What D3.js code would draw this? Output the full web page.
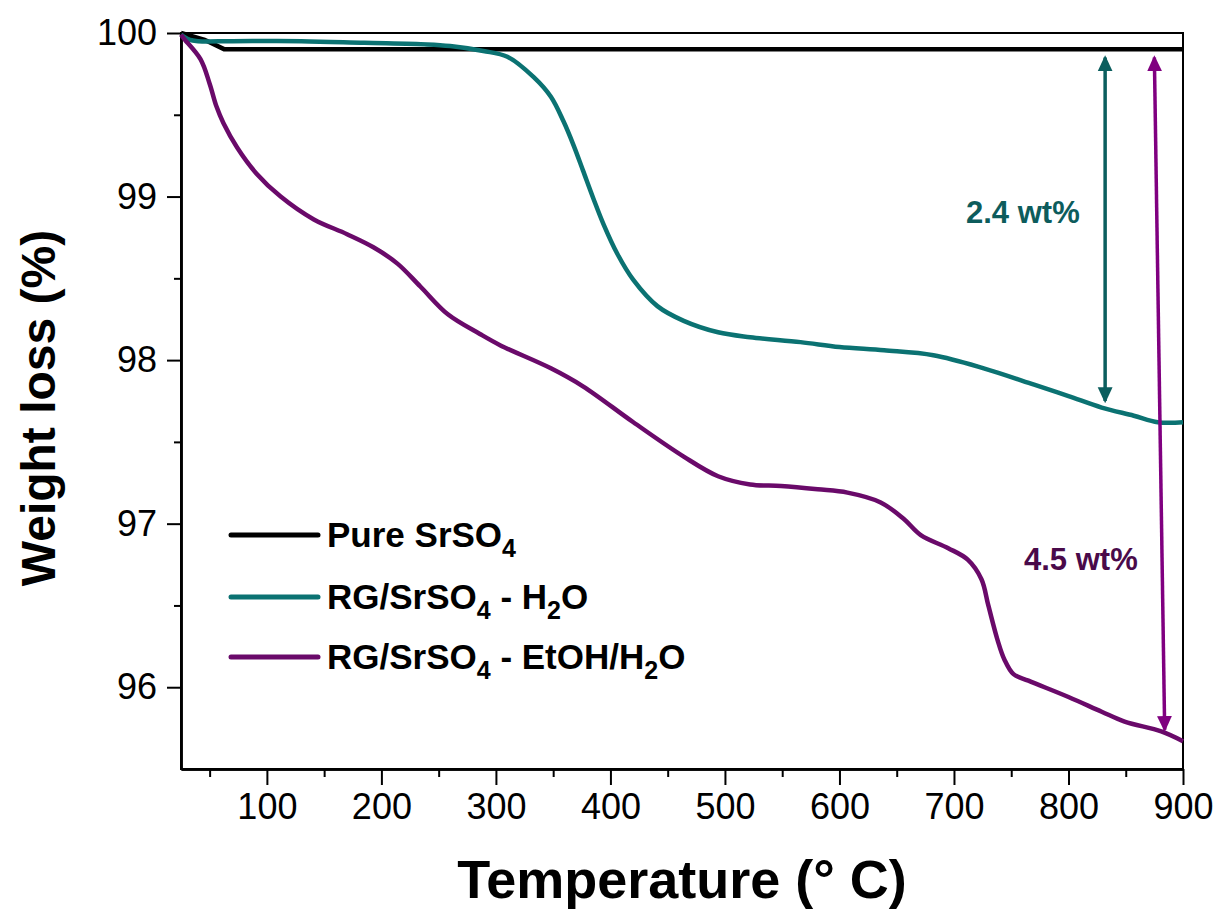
<!DOCTYPE html>
<html>
<head>
<meta charset="utf-8">
<script src="https://cdn.jsdelivr.net/npm/d3@7"></script>
<style>
  body { margin: 0; background: #fff; }
  svg text { font-family: "Liberation Sans", Arial, sans-serif; }
</style>
</head>
<body>
<script>
// TGA curves: temperature (°C) vs weight (%)
const pureT = [25, 45, 63, 900];
const pureW = [100, 99.96, 99.9, 99.9];

const h2oT = [25, 32, 40, 70, 130, 185, 240, 260, 289, 310, 333, 348, 359, 368, 376, 385, 394, 406, 420, 441, 464, 494, 522, 566, 600, 639, 682, 726, 770, 800, 829, 857, 878, 900];
const h2oW = [99.99, 99.96, 99.95, 99.95, 99.95, 99.94, 99.93, 99.92, 99.89, 99.855, 99.73, 99.61, 99.46, 99.31, 99.16, 98.99, 98.83, 98.65, 98.49, 98.33, 98.24, 98.17, 98.14, 98.11, 98.08, 98.06, 98.03, 97.95, 97.85, 97.78, 97.71, 97.66, 97.62, 97.62];

const etohT = [25, 27, 42, 50, 56, 62, 74, 91, 112, 141, 170, 193, 214, 234, 258, 286, 304, 348, 376, 420, 464, 494, 522, 549, 581, 607, 636, 656, 671, 695, 712, 724, 730, 738, 744, 752, 765, 800, 829, 849, 881, 900];
const etohW = [99.99, 99.97, 99.84, 99.69, 99.55, 99.45, 99.30, 99.14, 99.00, 98.86, 98.77, 98.69, 98.59, 98.45, 98.28, 98.16, 98.09, 97.95, 97.84, 97.62, 97.41, 97.29, 97.24, 97.23, 97.21, 97.19, 97.13, 97.03, 96.93, 96.85, 96.78, 96.66, 96.50, 96.29, 96.17, 96.08, 96.04, 95.94, 95.85, 95.79, 95.73, 95.67];

const xMajor = [100, 200, 300, 400, 500, 600, 700, 800, 900];
const xMinor = [50, 150, 250, 350, 450, 550, 650, 750, 850];
const yMajor = [96, 97, 98, 99, 100];
const yMinor = [96.5, 97.5, 98.5, 99.5];

const legendNames = [["Pure SrSO", "4", ""], ["RG/SrSO", "4", " - H", "2", "O"], ["RG/SrSO", "4", " - EtOH/H", "2", "O"]];
const colors = ["#000000", "#0b7272", "#6a0a6a"];

// double-headed arrows marking the losses
const arrowT1 = [832, 875];
const arrowT2 = [832, 884];
const arrowTop = [99.85, 99.85];
const arrowBot = [97.75, 95.74];
const arrowColors = ["#0b5e5e", "#800080"];
const lossLabels = ["2.4 wt%", "4.5 wt%"];
const lossLabelColors = ["#0d5c5c", "#4a0a4a"];

const W = 1220, H = 917;
const m = {left: 181, right: 37, top: 33, bottom: 148};

const svg = d3.select("body").append("svg")
    .attr("width", W)
    .attr("height", H);

const x = d3.scaleLinear().domain([25, 900]).range([m.left, W - m.right]);
const y = d3.scaleLinear().domain([95.5, 100]).range([H - m.bottom, m.top]);

// frame (top & right)
svg.append("rect")
    .attr("x", x(25)).attr("y", y(100))
    .attr("width", x(900) - x(25)).attr("height", y(95.5) - y(100))
    .attr("fill", "none").attr("stroke", "#000").attr("stroke-width", 2);

// axes
const gx = svg.append("g").attr("transform", `translate(0,${y(95.5)})`);
gx.call(d3.axisBottom(x).tickValues(xMajor).tickSize(16).tickPadding(8).tickSizeOuter(0));
const gxm = svg.append("g").attr("transform", `translate(0,${y(95.5)})`);
gxm.call(d3.axisBottom(x).tickValues(xMinor).tickSize(8).tickFormat("").tickSizeOuter(0));

const gy = svg.append("g").attr("transform", `translate(${x(25)},0)`);
gy.call(d3.axisLeft(y).tickValues(yMajor).tickFormat(d3.format("d")).tickSize(14).tickPadding(10).tickSizeOuter(0));
const gym = svg.append("g").attr("transform", `translate(${x(25)},0)`);
gym.call(d3.axisLeft(y).tickValues(yMinor).tickSize(7).tickFormat("").tickSizeOuter(0));

svg.selectAll(".domain").attr("stroke-width", 2.5);
svg.selectAll(".tick line").attr("stroke-width", 2);
svg.selectAll(".tick text")
    .attr("font-size", 36)
    .attr("font-family", "Liberation Sans, Arial, sans-serif")
    .attr("fill", "#000");

// axis titles
svg.append("text")
    .attr("x", 682).attr("y", 898)
    .attr("text-anchor", "middle")
    .attr("font-size", 54).attr("font-weight", "bold")
    .text("Temperature (° C)");

svg.append("text")
    .attr("transform", "translate(55,408)rotate(-90)")
    .attr("text-anchor", "middle")
    .attr("font-size", 48).attr("font-weight", "bold")
    .text("Weight loss (%)");

// curves
const line = d3.line()
    .x(d => x(d[0]))
    .y(d => y(d[1]))
    .curve(d3.curveCatmullRom.alpha(0.5));

const series = [
    d3.zip(pureT, pureW),
    d3.zip(h2oT, h2oW),
    d3.zip(etohT, etohW)
];

svg.append("g").selectAll("path")
    .data(series)
    .enter()
    .append("path")
    .attr("d", (d, i) => i === 0 ? d3.line().x(p => x(p[0])).y(p => y(p[1]))(d) : line(d))
    .attr("fill", "none")
    .attr("stroke", (d, i) => colors[i])
    .attr("stroke-width", 4.5)
    .attr("stroke-linejoin", "round");

// arrow markers
const defs = svg.append("defs");
arrowColors.forEach((c, i) => {
    defs.append("marker")
        .attr("id", `head${i}`)
        .attr("markerUnits", "userSpaceOnUse")
        .attr("markerWidth", 16).attr("markerHeight", 16)
        .attr("viewBox", "0 -7 14 14")
        .attr("refX", 12).attr("refY", 0)
        .attr("orient", "auto-start-reverse")
        .append("path")
        .attr("d", "M0,-6.5L14,0L0,6.5Z")
        .attr("fill", c);
});

svg.append("g").selectAll("line")
    .data(arrowColors)
    .enter()
    .append("line")
    .attr("x1", (d, i) => x(arrowT1[i]))
    .attr("y1", (d, i) => y(arrowTop[i]))
    .attr("x2", (d, i) => x(arrowT2[i]))
    .attr("y2", (d, i) => y(arrowBot[i]))
    .attr("stroke", d => d)
    .attr("stroke-width", 3.5)
    .attr("marker-start", (d, i) => `url(#head${i})`)
    .attr("marker-end", (d, i) => `url(#head${i})`);

const labelPos = [[966, 223], [1024, 570]];
svg.append("g").selectAll("text")
    .data(lossLabels)
    .enter()
    .append("text")
    .attr("x", (d, i) => labelPos[i][0])
    .attr("y", (d, i) => labelPos[i][1])
    .attr("font-family", "Open Sans, sans-serif")
    .attr("font-weight", "bold")
    .attr("font-size", 31)
    .attr("fill", (d, i) => lossLabelColors[i])
    .text(d => d);

// legend
const legendY = [535, 597, 657];
const lg = svg.append("g");
legendNames.forEach((parts, i) => {
    lg.append("line")
        .attr("x1", 231).attr("x2", 318)
        .attr("y1", legendY[i]).attr("y2", legendY[i])
        .attr("stroke", colors[i])
        .attr("stroke-width", 5)
        .attr("stroke-linecap", "round");
    const t = lg.append("text")
        .attr("x", 327).attr("y", legendY[i] + 12)
        .attr("font-size", 35).attr("font-weight", "bold");
    parts.forEach((p, k) => {
        if (k % 2 === 1) {
            t.append("tspan").attr("dy", 10).attr("font-size", 25).text(p);
        } else if (k > 0) {
            t.append("tspan").attr("dy", -10).text(p);
        } else {
            t.append("tspan").text(p);
        }
    });
});
</script>
</body>
</html>
